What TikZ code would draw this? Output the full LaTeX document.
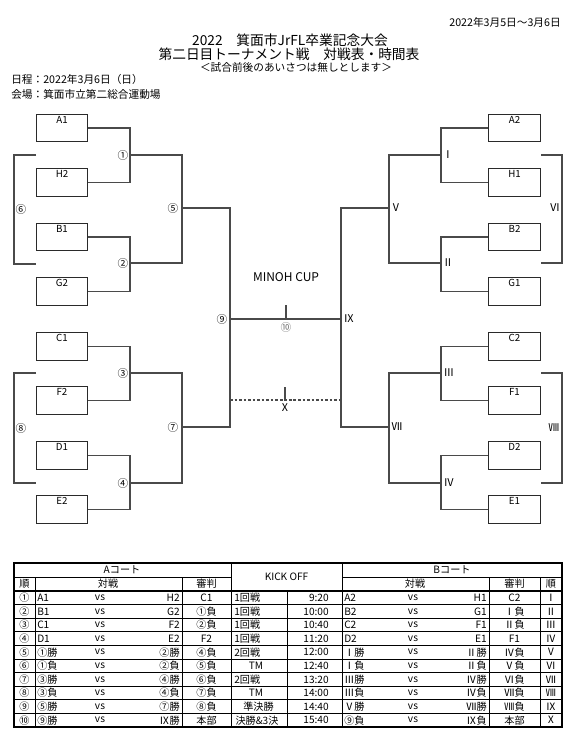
\documentclass[tikz,border=0pt]{standalone}
\usepackage{fontspec}
\setmainfont{Noto Sans CJK JP}
\definecolor{ln}{HTML}{4A4A4A}
\definecolor{bx}{HTML}{2A2A2A}
\begin{document}
\begin{tikzpicture}[x=0.75pt,y=-0.75pt,
  brk/.style={draw=ln,line width=0.85pt},
  teambox/.style={draw=bx,line width=0.9pt,minimum width=38.5pt,minimum height=20.5pt,inner sep=0pt},
  tname/.style={font=\fontsize{7.3pt}{8pt}\selectfont,anchor=north,inner sep=0pt},
  mlab/.style={font=\fontsize{8pt}{9pt}\selectfont,inner sep=0pt},
  big/.style={font=\fontsize{10.3pt}{12pt}\selectfont,inner sep=0pt},
  mid/.style={font=\fontsize{8pt}{9pt}\selectfont,inner sep=0pt},
  tb/.style={font=\fontsize{7.6pt}{8pt}\selectfont,inner sep=0pt},
  tline/.style={draw=black,line width=0.6pt},
  tout/.style={draw=black,line width=1.1pt}]
\fill[white] (0,0) rectangle (573,736);
\useasboundingbox (0,0) rectangle (573,736);

% header
\node[mid,anchor=east] (date) at (561,22) {2022年3月5日～3月6日};
\node[big] (t1) at (290,40) {2022　箕面市JrFL卒業記念大会};
\node[big] (t2) at (289,54) {第二日目トーナメント戦　対戦表・時間表};
\node[mid] (t3) at (296,67) {＜試合前後のあいさつは無しとします＞};
\node[mid,anchor=west] (t4) at (11,79) {日程：2022年3月6日（日）};
\node[mid,anchor=west] (t5) at (11,94) {会場：箕面市立第二総合運動場};

% team boxes
\foreach \l/\r/\yy in {A1/A2/128,H2/H1/182.5,B1/B2/237,G2/G1/291.5,C1/C2/346.5,F2/F1/400.5,D1/D2/455.5,E2/E1/509.5}{
  \node[teambox] (\l) at (62,\yy) {};
  \node[tname] (\l t) at ([yshift=-1.6pt]\l.north) {\l};
  \node[teambox] (\r) at (514.5,\yy) {};
  \node[tname] (\r t) at ([yshift=-1.6pt]\r.north) {\r};
}

% junctions
\coordinate (j1) at (130,155); \coordinate (j2) at (130,263);
\coordinate (j3) at (130,373); \coordinate (j4) at (130,483);
\coordinate (j5) at (182,208); \coordinate (j7) at (182,427);
\coordinate (j9) at (230,319);
\coordinate (k1) at (441,155); \coordinate (k2) at (441,263);
\coordinate (k3) at (441,373); \coordinate (k4) at (441,483);
\coordinate (k5) at (389,208); \coordinate (k7) at (389,427);
\coordinate (k9) at (341,319);

% left bracket
\draw[brk] (A1.east) -| (j1) |- (H2.east);
\draw[brk] (B1.east) -| (j2) |- (G2.east);
\draw[brk] (C1.east) -| (j3) |- (F2.east);
\draw[brk] (D1.east) -| (j4) |- (E2.east);
\draw[brk] (j1) -| (j5) |- (j2);
\draw[brk] (j3) -| (j7) |- (j4);
\draw[brk] (j5) -| (j9) |- (j7);
% right bracket
\draw[brk] (A2.west) -| (k1) |- (H1.west);
\draw[brk] (B2.west) -| (k2) |- (G1.west);
\draw[brk] (C2.west) -| (k3) |- (F1.west);
\draw[brk] (D2.west) -| (k4) |- (E1.west);
\draw[brk] (k1) -| (k5) |- (k2);
\draw[brk] (k3) -| (k7) |- (k4);
\draw[brk] (k5) -| (k9) |- (k7);
% final
\draw[brk] (j9) -- (k9);
\coordinate (t10) at (286,305);
\draw[brk] (t10) -- (t10 |- j9);
\coordinate (d1) at (230,400); \coordinate (d2) at (341,400);
\draw[brk,dash pattern=on 2pt off 1.4pt] (d1) -- (d2);
\coordinate (t11) at (285,387);
\draw[brk] (t11) -- (t11 |- d1);

% consolation brackets
\coordinate (b6a) at (36,155); \coordinate (b6b) at (36,264);
\coordinate (b8a) at (36,373); \coordinate (b8b) at (36,483);
\coordinate (c6a) at (541,155); \coordinate (c6b) at (541,263);
\coordinate (c8a) at (541,373); \coordinate (c8b) at (541,483);
\draw[brk] (b6a) -- ++(-22,0) |- (b6b);
\draw[brk] (b8a) -- ++(-22,0) |- (b8b);
\draw[brk] (c6a) -- ++(21,0) |- (c6b);
\draw[brk] (c8a) -- ++(21,0) |- (c8b);

% match labels
\node[mlab] (l1) at (123,155) {①};
\node[mlab] (l2) at (123,263) {②};
\node[mlab] (l3) at (123,373) {③};
\node[mlab] (l4) at (123,483) {④};
\node[mlab] (l5) at (173,208) {⑤};
\node[mlab] (l7) at (173,427) {⑦};
\node[mlab] (l9) at (222,319) {⑨};
\node[mlab] (l6) at (21,209) {⑥};
\node[mlab] (l8) at (21,428) {⑧};
\node[mlab] (r1) at (448,155) {Ⅰ};
\node[mlab] (r2) at (448,263) {Ⅱ};
\node[mlab] (r3) at (449,373) {Ⅲ};
\node[mlab] (r4) at (449,483) {Ⅳ};
\node[mlab] (r5) at (396,208) {Ⅴ};
\node[mlab] (r7) at (397,427) {Ⅶ};
\node[mlab] (r9) at (349,319) {Ⅸ};
\node[mlab] (r6) at (555,208) {Ⅵ};
\node[mlab] (r8) at (554,428) {Ⅷ};
\node[mlab,text=black!55] (l10) at (286,327) {⑩};
\node[mlab] (r10) at (285,408) {Ⅹ};
\node[font=\fontsize{9pt}{10pt}\selectfont,inner sep=0pt] (cup) at (286,277) {MINOH CUP};

% table
\draw[tout] (14,563) rectangle (562,727);
\draw[tline] (14,577) -- (231,577);
\draw[tline] (342,577) -- (562,577);
\draw[draw=black,line width=1pt] (14,591) -- (562,591);
\foreach \i in {1,...,9}{
  \draw[tline] (14,591+13.6*\i) -- (562,591+13.6*\i);
}
\foreach \xx/\ya in {35/577,182/577,231/563,287/591,342/563,489/577,540/577}{
  \draw[tline] (\xx,\ya) -- (\xx,727);
}
\node[tb] (hA) at (122,570) {Aコート};
\node[tb] (hK) at (286.5,577) {KICK OFF};
\node[tb] (hB) at (452,570) {Bコート};
\node[tb] (hA1) at (24.5,584) {順};
\node[tb] (hA2) at (108,584) {対戦};
\node[tb] (hA3) at (206.5,584) {審判};
\node[tb] (hB2) at (415,584) {対戦};
\node[tb] (hB3) at (514.5,584) {審判};
\node[tb] (hB1) at (551,584) {順};

\foreach \n/\al/\ar/\aj/\tm/\bl/\br/\bj/\bn [count=\i] in {
  ①/A1/H2/C1/9:20/A2/H1/C2/Ⅰ,
  ②/B1/G2/①負/10:00/B2/G1/Ⅰ負/Ⅱ,
  ③/C1/F2/②負/10:40/C2/F1/Ⅱ負/Ⅲ,
  ④/D1/E2/F2/11:20/D2/E1/F1/Ⅳ,
  ⑤/①勝/②勝/④負/12:00/Ⅰ勝/Ⅱ勝/Ⅳ負/Ⅴ,
  ⑥/①負/②負/⑤負/12:40/Ⅰ負/Ⅱ負/Ⅴ負/Ⅵ,
  ⑦/③勝/④勝/⑥負/13:20/Ⅲ勝/Ⅳ勝/Ⅵ負/Ⅶ,
  ⑧/③負/④負/⑦負/14:00/Ⅲ負/Ⅳ負/Ⅶ負/Ⅷ,
  ⑨/⑤勝/⑦勝/⑧負/14:40/Ⅴ勝/Ⅶ勝/Ⅷ負/Ⅸ,
  ⑩/⑨勝/Ⅸ勝/本部/15:40/⑨負/Ⅸ負/本部/Ⅹ}{
  \pgfmathsetmacro{\yy}{591+13.6*(\i-0.5)}
  \node[tb] (an\i) at (24.5,\yy) {\n};
  \node[tb,anchor=west] (al\i) at (37,\yy) {\al};
  \node[tb] (av\i) at (100,\yy) {vs};
  \node[tb,anchor=east] (ar\i) at (180,\yy) {\ar};
  \node[tb] (aj\i) at (206.5,\yy) {\aj};
  \node[tb,anchor=east] (tm\i) at (329,\yy) {\tm};
  \node[tb,anchor=west] (bl\i) at (344,\yy) {\bl};
  \node[tb] (bv\i) at (413,\yy) {vs};
  \node[tb,anchor=east] (br\i) at (487,\yy) {\br};
  \node[tb] (bj\i) at (514.5,\yy) {\bj};
  \node[tb] (bn\i) at (551,\yy) {\bn};
}
\foreach \i/\xx/\an/\tx in {1/234/west/1回戦,2/234/west/1回戦,3/234/west/1回戦,4/234/west/1回戦,5/234/west/2回戦,6/256/center/TM,7/234/west/2回戦,8/256/center/TM,9/258.5/center/準決勝,10/257/center/決勝\&3決}{
  \pgfmathsetmacro{\yy}{591+13.6*(\i-0.5)}
  \node[tb,anchor=\an] (ko\i) at (\xx,\yy) {\tx};
}
\end{tikzpicture}
\end{document}
